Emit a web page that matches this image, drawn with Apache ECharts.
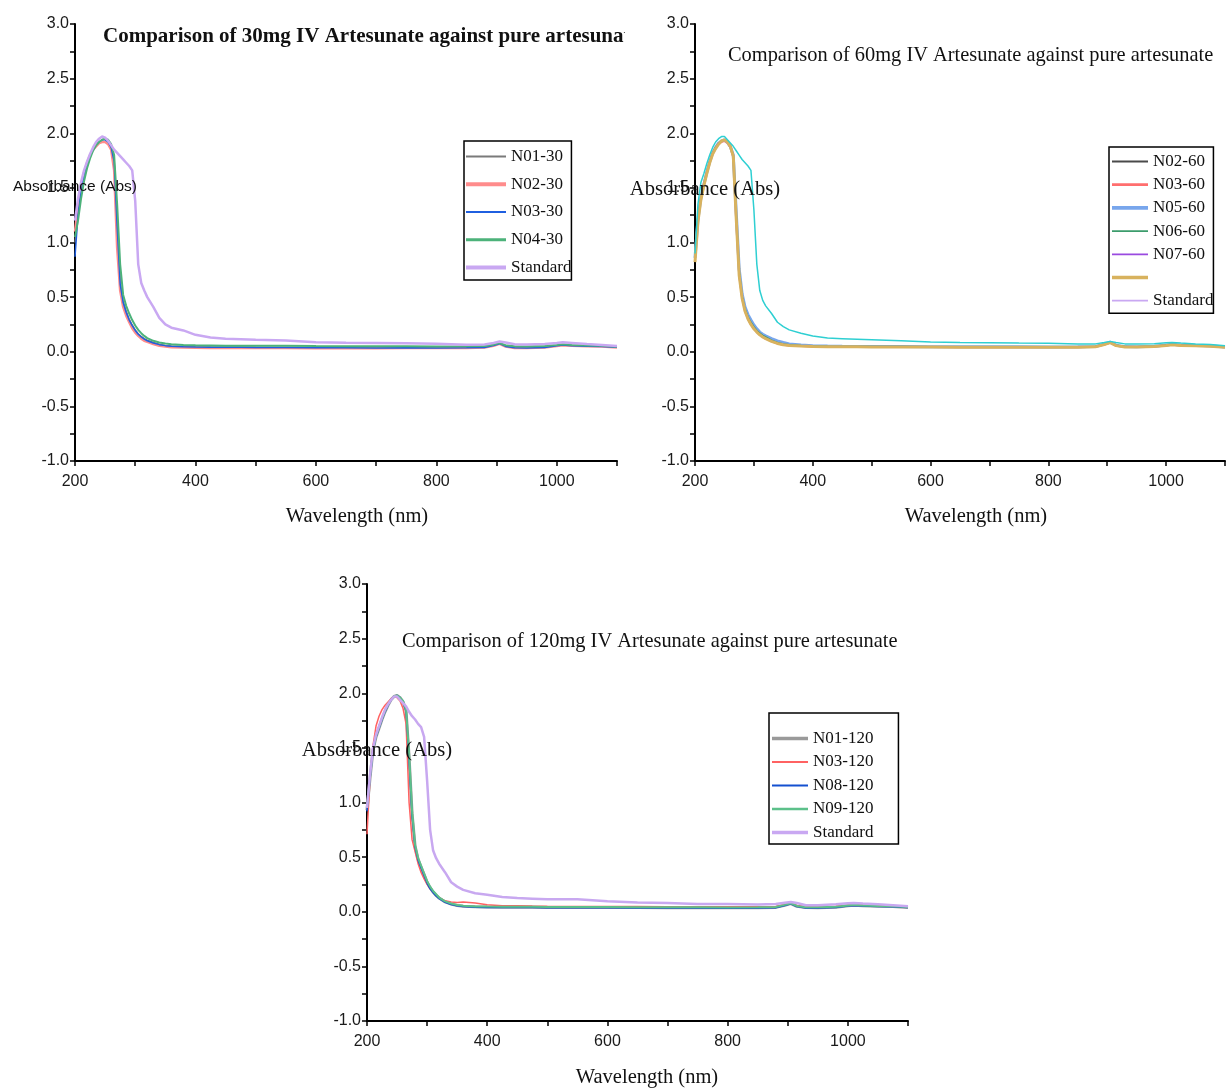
<!DOCTYPE html>
<html>
<head>
<meta charset="utf-8">
<script src="https://cdn.jsdelivr.net/npm/echarts@6/dist/echarts.min.js"></script>
<style>html,body{margin:0;padding:0;background:#fff;}#c{width:1228px;height:1089px;}</style>
</head>
<body>
<div id="c"></div>
<script>
// Wavelength grid (nm)
const W = [200,205,210,215,220,225,230,235,240,245,250,255,260,265,270,275,280,285,290,295,300,305,310,315,320,330,340,350,360,380,400,425,450,475,500,550,600,650,700,750,800,850,880,895,905,915,930,950,980,1000,1010,1025,1050,1075,1100];

// Panel 1 : 30 mg
const N01_30 = [1.00,1.30,1.50,1.63,1.73,1.80,1.85,1.89,1.92,1.94,1.95,1.93,1.88,1.76,1.20,0.64,0.46,0.37,0.30,0.245,0.20,0.165,0.14,0.12,0.105,0.085,0.068,0.058,0.052,0.048,0.045,0.043,0.042,0.042,0.041,0.040,0.038,0.037,0.036,0.037,0.036,0.037,0.040,0.058,0.075,0.050,0.037,0.036,0.040,0.055,0.062,0.055,0.052,0.050,0.042];
const N02_30 = [1.10,1.35,1.52,1.64,1.73,1.80,1.85,1.88,1.91,1.92,1.92,1.90,1.85,1.66,0.95,0.56,0.41,0.33,0.27,0.215,0.175,0.145,0.12,0.10,0.09,0.07,0.055,0.048,0.042,0.038,0.036,0.035,0.035,0.034,0.034,0.034,0.033,0.033,0.033,0.034,0.034,0.035,0.038,0.055,0.072,0.048,0.035,0.034,0.038,0.052,0.060,0.054,0.050,0.048,0.040];
const N03_30 = [0.87,1.25,1.47,1.62,1.72,1.79,1.85,1.89,1.92,1.94,1.94,1.92,1.87,1.74,1.15,0.62,0.45,0.36,0.29,0.24,0.195,0.16,0.135,0.115,0.10,0.08,0.065,0.056,0.050,0.046,0.044,0.042,0.041,0.041,0.040,0.039,0.037,0.036,0.035,0.036,0.035,0.036,0.039,0.057,0.074,0.049,0.036,0.035,0.039,0.054,0.061,0.054,0.051,0.049,0.041];
const N04_30 = [1.05,1.20,1.40,1.56,1.68,1.77,1.84,1.89,1.92,1.94,1.95,1.94,1.90,1.80,1.35,0.80,0.52,0.42,0.35,0.29,0.24,0.20,0.17,0.145,0.125,0.10,0.085,0.075,0.068,0.062,0.060,0.058,0.056,0.055,0.055,0.054,0.052,0.051,0.050,0.050,0.049,0.050,0.052,0.065,0.080,0.060,0.050,0.049,0.052,0.062,0.068,0.062,0.058,0.055,0.046];
const STD_30 = [1.20,1.40,1.55,1.66,1.74,1.81,1.87,1.92,1.95,1.97,1.96,1.93,1.89,1.85,1.82,1.79,1.76,1.73,1.70,1.66,1.38,0.80,0.63,0.56,0.50,0.41,0.31,0.25,0.22,0.195,0.155,0.13,0.12,0.115,0.11,0.103,0.088,0.082,0.080,0.078,0.074,0.065,0.066,0.080,0.093,0.085,0.068,0.066,0.070,0.080,0.086,0.080,0.070,0.062,0.052];

// Panel 2 : 60 mg
const N02_60 = [0.86,1.20,1.40,1.53,1.64,1.74,1.82,1.87,1.91,1.93,1.94,1.92,1.88,1.80,1.25,0.72,0.50,0.38,0.31,0.26,0.22,0.19,0.165,0.145,0.13,0.10,0.08,0.068,0.060,0.055,0.050,0.048,0.047,0.046,0.046,0.045,0.044,0.044,0.043,0.043,0.042,0.043,0.046,0.068,0.085,0.058,0.045,0.044,0.048,0.060,0.066,0.060,0.055,0.052,0.042];
const N03_60 = [0.88,1.22,1.41,1.54,1.65,1.74,1.82,1.87,1.90,1.92,1.93,1.91,1.87,1.78,1.20,0.70,0.49,0.37,0.30,0.25,0.21,0.18,0.155,0.135,0.12,0.095,0.075,0.064,0.057,0.052,0.048,0.046,0.045,0.045,0.044,0.044,0.043,0.042,0.042,0.042,0.041,0.042,0.045,0.066,0.083,0.056,0.044,0.043,0.047,0.058,0.064,0.058,0.054,0.050,0.041];
const N05_60 = [0.86,1.21,1.41,1.53,1.64,1.74,1.82,1.87,1.91,1.93,1.94,1.92,1.88,1.80,1.28,0.76,0.53,0.41,0.34,0.29,0.245,0.21,0.18,0.16,0.145,0.12,0.10,0.085,0.072,0.062,0.055,0.052,0.050,0.049,0.048,0.047,0.046,0.045,0.045,0.045,0.044,0.045,0.048,0.070,0.088,0.060,0.047,0.046,0.050,0.062,0.068,0.062,0.057,0.054,0.044];
const N06_60 = [0.87,1.21,1.40,1.53,1.64,1.74,1.82,1.87,1.91,1.93,1.94,1.92,1.88,1.80,1.26,0.74,0.51,0.39,0.32,0.27,0.23,0.195,0.17,0.15,0.135,0.105,0.085,0.072,0.064,0.058,0.053,0.050,0.049,0.048,0.048,0.047,0.046,0.046,0.045,0.045,0.044,0.045,0.048,0.070,0.087,0.060,0.047,0.046,0.050,0.062,0.068,0.062,0.057,0.054,0.044];
const N07_60 = [0.85,1.20,1.40,1.53,1.64,1.74,1.82,1.87,1.91,1.93,1.94,1.92,1.88,1.80,1.24,0.71,0.50,0.38,0.31,0.26,0.22,0.185,0.16,0.14,0.125,0.10,0.08,0.067,0.059,0.054,0.050,0.048,0.047,0.046,0.046,0.045,0.044,0.044,0.043,0.043,0.042,0.043,0.046,0.068,0.085,0.058,0.045,0.044,0.048,0.060,0.066,0.060,0.055,0.052,0.042];
const N08_60 = [0.82,1.19,1.39,1.52,1.63,1.73,1.81,1.86,1.90,1.93,1.94,1.92,1.88,1.79,1.22,0.70,0.49,0.37,0.30,0.25,0.21,0.18,0.155,0.135,0.12,0.095,0.076,0.064,0.057,0.052,0.048,0.046,0.045,0.045,0.044,0.044,0.043,0.042,0.042,0.042,0.041,0.042,0.045,0.066,0.083,0.056,0.044,0.043,0.047,0.058,0.064,0.058,0.054,0.050,0.041];
const STD_60 = [0.90,1.35,1.55,1.63,1.72,1.80,1.87,1.92,1.95,1.97,1.97,1.94,1.91,1.88,1.84,1.80,1.76,1.73,1.70,1.66,1.30,0.80,0.56,0.47,0.42,0.35,0.27,0.23,0.20,0.17,0.145,0.125,0.12,0.115,0.11,0.10,0.09,0.085,0.083,0.080,0.078,0.072,0.072,0.085,0.095,0.085,0.072,0.070,0.074,0.082,0.085,0.080,0.072,0.066,0.055];

// Panel 3 : 120 mg
const N01_120 = [0.93,1.22,1.48,1.60,1.68,1.76,1.83,1.89,1.94,1.97,1.98,1.96,1.92,1.84,1.42,0.90,0.60,0.48,0.41,0.34,0.27,0.22,0.18,0.15,0.125,0.09,0.07,0.058,0.050,0.045,0.043,0.042,0.041,0.041,0.040,0.040,0.039,0.038,0.037,0.037,0.036,0.037,0.040,0.060,0.075,0.050,0.038,0.037,0.041,0.055,0.060,0.055,0.050,0.048,0.040];
const N03_120 = [0.71,1.22,1.52,1.70,1.79,1.85,1.89,1.92,1.95,1.97,1.96,1.93,1.86,1.72,1.00,0.66,0.55,0.44,0.36,0.30,0.25,0.21,0.18,0.15,0.13,0.10,0.09,0.085,0.09,0.08,0.065,0.055,0.055,0.052,0.050,0.049,0.048,0.047,0.046,0.046,0.045,0.046,0.049,0.066,0.080,0.058,0.047,0.046,0.050,0.060,0.066,0.060,0.055,0.052,0.045];
const N08_120 = [0.92,1.22,1.47,1.60,1.68,1.76,1.83,1.89,1.94,1.97,1.98,1.96,1.92,1.84,1.40,0.88,0.59,0.47,0.40,0.33,0.26,0.21,0.175,0.145,0.12,0.087,0.067,0.055,0.047,0.042,0.040,0.039,0.038,0.038,0.037,0.037,0.036,0.035,0.034,0.034,0.033,0.034,0.037,0.058,0.073,0.048,0.035,0.034,0.038,0.052,0.058,0.052,0.048,0.046,0.038];
const N09_120 = [0.95,1.23,1.48,1.61,1.69,1.77,1.84,1.90,1.94,1.97,1.98,1.96,1.93,1.85,1.45,0.92,0.61,0.49,0.42,0.35,0.28,0.23,0.19,0.16,0.13,0.095,0.075,0.062,0.054,0.049,0.047,0.046,0.045,0.045,0.044,0.044,0.043,0.042,0.041,0.041,0.040,0.041,0.044,0.063,0.078,0.053,0.042,0.041,0.045,0.058,0.063,0.058,0.053,0.051,0.043];
const STD_120 = [0.95,1.25,1.50,1.62,1.70,1.78,1.85,1.90,1.94,1.97,1.97,1.94,1.91,1.88,1.83,1.79,1.76,1.72,1.69,1.60,1.20,0.75,0.56,0.49,0.44,0.36,0.27,0.23,0.20,0.17,0.155,0.135,0.125,0.12,0.115,0.115,0.095,0.085,0.080,0.072,0.070,0.067,0.070,0.083,0.090,0.080,0.060,0.060,0.068,0.078,0.080,0.075,0.068,0.060,0.050];

// Labels
const TITLES = ['Comparison of 30mg IV Artesunate against pure artesunate','Comparison of 60mg IV Artesunate against pure artesunate','Comparison of 120mg IV Artesunate against pure artesunate'];
const XNAME = 'Wavelength (nm)';
const YNAME = 'Absorbance (Abs)';
const NAMES1 = ['N01-30','N02-30','N03-30','N04-30','Standard'];
const NAMES2 = ['N02-60','N03-60','N05-60','N06-60','N07-60',' ','Standard'];
const NAMES3 = ['N01-120','N03-120','N08-120','N09-120','Standard'];

const VALS1 = [N01_30,N02_30,N03_30,N04_30,STD_30];
const VALS2 = [N02_60,N03_60,N05_60,N06_60,N07_60,N08_60,STD_60];
const VALS3 = [N01_120,N03_120,N08_120,N09_120,STD_120];

const COL1 = ['#7a7a7a','#ff8c8c','#1f5fe0','#4cb27a','#c9a8f2'];
const WID1 = [1.5,2.5,1.5,2,2.5];
const COL2 = ['#4a4a4a','#ff6e6e','#78a6ec','#3c9c6c','#9a4ae0','#d8b25e','#2ecfd2'];
const WID2 = [1.2,2,3,1.5,1.2,3,1.5];
const COL3 = ['#9a9a9a','#ff6262','#1450d0','#5cc08a','#c8a8f0'];
const WID3 = [3,1.5,1.5,2,2.5];

const chart = echarts.init(document.getElementById('c'));

const grids = [
  {left:75, top:24, width:542, height:437},
  {left:695, top:24, width:542, height:437},
  {left:367, top:584, width:541, height:437}
];

function xAx(i){
  return {gridIndex:i, type:'value', min:200, max:1100, interval:100,
    axisLine:{show:true,onZero:false,lineStyle:{color:'#000',width:2}},
    axisTick:{show:true,length:5,lineStyle:{color:'#000',width:1.5}},
    splitLine:{show:false},
    axisLabel:{margin:13,color:'#1a1a1a',fontFamily:'Liberation Sans',fontSize:16,
      formatter:v=> (v%200===0 && v<=1000) ? String(v) : ''}
  };
}
function yAx(i){
  return {gridIndex:i, type:'value', min:-1, max:3, interval:0.25,
    axisLine:{show:true,onZero:false,lineStyle:{color:'#000',width:2}},
    axisTick:{show:true,length:5,lineStyle:{color:'#000',width:1.5}},
    splitLine:{show:false},
    axisLabel:{margin:6,color:'#1a1a1a',fontFamily:'Liberation Sans',fontSize:16,
      formatter:v=> Math.abs(v*2-Math.round(v*2))<1e-6 ? v.toFixed(1) : ''}
  };
}

const series = [];
function addSeries(names, vals, cols, wids, gi){
  names.forEach((n,k)=>{
    series.push({name:n, type:'line', xAxisIndex:gi, yAxisIndex:gi, symbol:'none',
      color:cols[k], lineStyle:{color:cols[k], width:wids[k]}, itemStyle:{color:cols[k]},
      data: W.map((w,j)=>[w, vals[k][j]]), z:2+k, animation:false});
  });
}
addSeries(NAMES1,VALS1,COL1,WID1,0);
addSeries(NAMES2,VALS2,COL2,WID2,1);
addSeries(NAMES3,VALS3,COL3,WID3,2);

function iconFor(w){ return w>=2.5 ? 'path://M0,0H40V4H0Z' : (w>=2 ? 'path://M0,0H40V3H0Z' : 'path://M0,0H40V2H0Z'); }
function legend(names, wids, pos, pad, iw, gap){
  return Object.assign({orient:'vertical', itemWidth:iw, itemHeight:14, itemGap:gap,
    padding:pad, borderColor:'#000', borderWidth:1.5, backgroundColor:'#fff',
    selectedMode:false,
    textStyle:{fontFamily:'Liberation Serif', fontSize:17, color:'#111', lineHeight:16},
    data: names.map((n,k)=>({name:n, icon:iconFor(wids[k])}))}, pos);
}

chart.setOption({
  animation:false,
  backgroundColor:'#fff',
  grid: grids,
  xAxis: [xAx(0),xAx(1),xAx(2)],
  yAxis: [yAx(0),yAx(1),yAx(2)],
  legend: [
    legend(NAMES1, WID1, {left:464, top:141}, [7,0,4,2], 40, 10.75),
    legend(NAMES2, WID2, {left:1109, top:147}, [6,0,4,3], 36, 6.2),
    legend(NAMES3, WID3, {left:769, top:713}, [17,25,3,3], 36, 6.5)
  ],
  series: series,
  graphic: [
    {type:'text', x:103, y:37, z:100, style:{text:TITLES[0], font:'bold 21px "Liberation Serif"', fill:'#111', verticalAlign:'middle'}},
    {type:'rect', x:625, y:26, z:101, shape:{width:35, height:24}, style:{fill:'#fff'}},
    {type:'text', x:728, y:56, z:100, style:{text:TITLES[1], font:'20.4px "Liberation Serif"', fill:'#111', verticalAlign:'middle'}},
    {type:'text', x:402, y:642, z:100, style:{text:TITLES[2], font:'20.4px "Liberation Serif"', fill:'#111', verticalAlign:'middle'}},
    {type:'text', x:357, y:517, z:100, style:{text:XNAME, font:'20.5px "Liberation Serif"', fill:'#111', align:'center', verticalAlign:'middle'}},
    {type:'text', x:976, y:517, z:100, style:{text:XNAME, font:'20.5px "Liberation Serif"', fill:'#111', align:'center', verticalAlign:'middle'}},
    {type:'text', x:647, y:1078, z:100, style:{text:XNAME, font:'20.5px "Liberation Serif"', fill:'#111', align:'center', verticalAlign:'middle'}},
    {type:'text', x:75, y:187, z:100, style:{text:YNAME, font:'15.5px "Liberation Sans"', fill:'#111', align:'center', verticalAlign:'middle'}},
    {type:'text', x:705, y:190, z:100, style:{text:YNAME, font:'20.6px "Liberation Serif"', fill:'#111', align:'center', verticalAlign:'middle'}},
    {type:'text', x:377, y:751, z:100, style:{text:YNAME, font:'20.6px "Liberation Serif"', fill:'#111', align:'center', verticalAlign:'middle'}}
  ]
});
</script>
</body>
</html>
